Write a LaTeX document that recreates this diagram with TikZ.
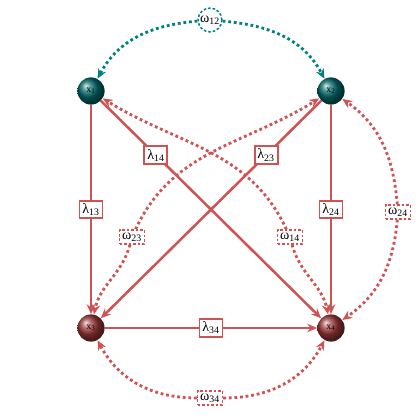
\documentclass[tikz,border=0pt]{standalone}
\usepackage{fontspec}
\setmainfont{Liberation Serif}
\usetikzlibrary{arrows.meta,shadings}
\definecolor{mred}{RGB}{208,82,82}
\definecolor{mteal}{RGB}{0,128,128}
\definecolor{ballteal}{RGB}{0,105,105}
\definecolor{ballred}{RGB}{155,55,55}
\tikzset{
  ballnode/.style={circle, minimum size=0.68cm, inner sep=0pt, shading=ball, font=\scriptsize},
  tealball/.style={ballnode, ball color=ballteal},
  redball/.style={ballnode, ball color=ballred},
  lam/.style={draw=mred, line width=1.4pt, fill=white, inner sep=2pt, font=\normalsize},
  om/.style={draw=mred, line width=1.1pt, dash pattern=on 1.8pt off 1.4pt, fill=white, inner sep=1.8pt, font=\normalsize},
  omc/.style={draw=mteal, line width=1.1pt, dash pattern=on 1.8pt off 1.4pt, circle, fill=white, inner sep=0.6pt, font=\normalsize},
  solidarr/.style={draw=mred, line width=1.8pt, -{Stealth[length=7pt,width=6pt]}},
  dotarr/.style={draw=mred, line width=2pt, dash pattern=on 2pt off 2pt, -{Stealth[length=7pt,width=6pt,fill=mred]}},
  dotteal/.style={draw=mteal, line width=2pt, dash pattern=on 2pt off 2pt, -{Stealth[length=7pt,width=6pt,fill=mteal]}}
}
\begin{document}
\begin{tikzpicture}[x=0.025cm,y=-0.025cm]
\useasboundingbox (0,0) rectangle (420,420);
\node[tealball] (x1) at (91,91) {x\textsubscript{1}};
\node[tealball] (x2) at (331,91) {x\textsubscript{2}};
\node[redball] (x3) at (91,328) {x\textsubscript{3}};
\node[redball] (x4) at (331,328) {x\textsubscript{4}};
% solid regressions
\draw[solidarr] (x1) -- node[lam, pos=0.5] (l13) {λ\textsubscript{13}} (x3);
\draw[solidarr] (x2) -- node[lam, pos=0.5] (l24) {λ\textsubscript{24}} (x4);
\draw[solidarr] (x3) -- node[lam, pos=0.5] (l34) {λ\textsubscript{34}} (x4);
\draw[solidarr] (x1) -- node[lam, pos=0.25] (l14) {λ\textsubscript{14}} (x4);
\draw[solidarr] (x2) -- node[lam, pos=0.25] (l23) {λ\textsubscript{23}} (x3);
% omega labels
\node[omc] (w12) at (210,20) {ω\textsubscript{12}};
\node[om] (w34) at (210,398) {ω\textsubscript{34}};
\node[om] (w24) at (398,212) {ω\textsubscript{24}};
\node[om] (w23) at (132,237) {ω\textsubscript{23}};
\node[om] (w14) at (290,237) {ω\textsubscript{14}};
% dotted covariances
\draw[dotteal] (w12) to[out=185,in=62] (x1);
\draw[dotteal] (w12) to[out=-5,in=118] (x2);
\draw[dotarr] (w34) to[out=180,in=-62] (x3);
\draw[dotarr] (w34) to[out=0,in=-118] (x4);
\draw[dotarr] (w24) to[out=95,in=-35] (x2);
\draw[dotarr] (w24) to[out=-95,in=35] (x4);
\draw[dotarr] (w23) to[out=65,in=212] (x2);
\draw[dotarr] (w23) to[out=-105,in=78] (x3);
\draw[dotarr] (w14) to[out=115,in=-32] (x1);
\draw[dotarr] (w14) to[out=-75,in=102] (x4);
\end{tikzpicture}
\end{document}
